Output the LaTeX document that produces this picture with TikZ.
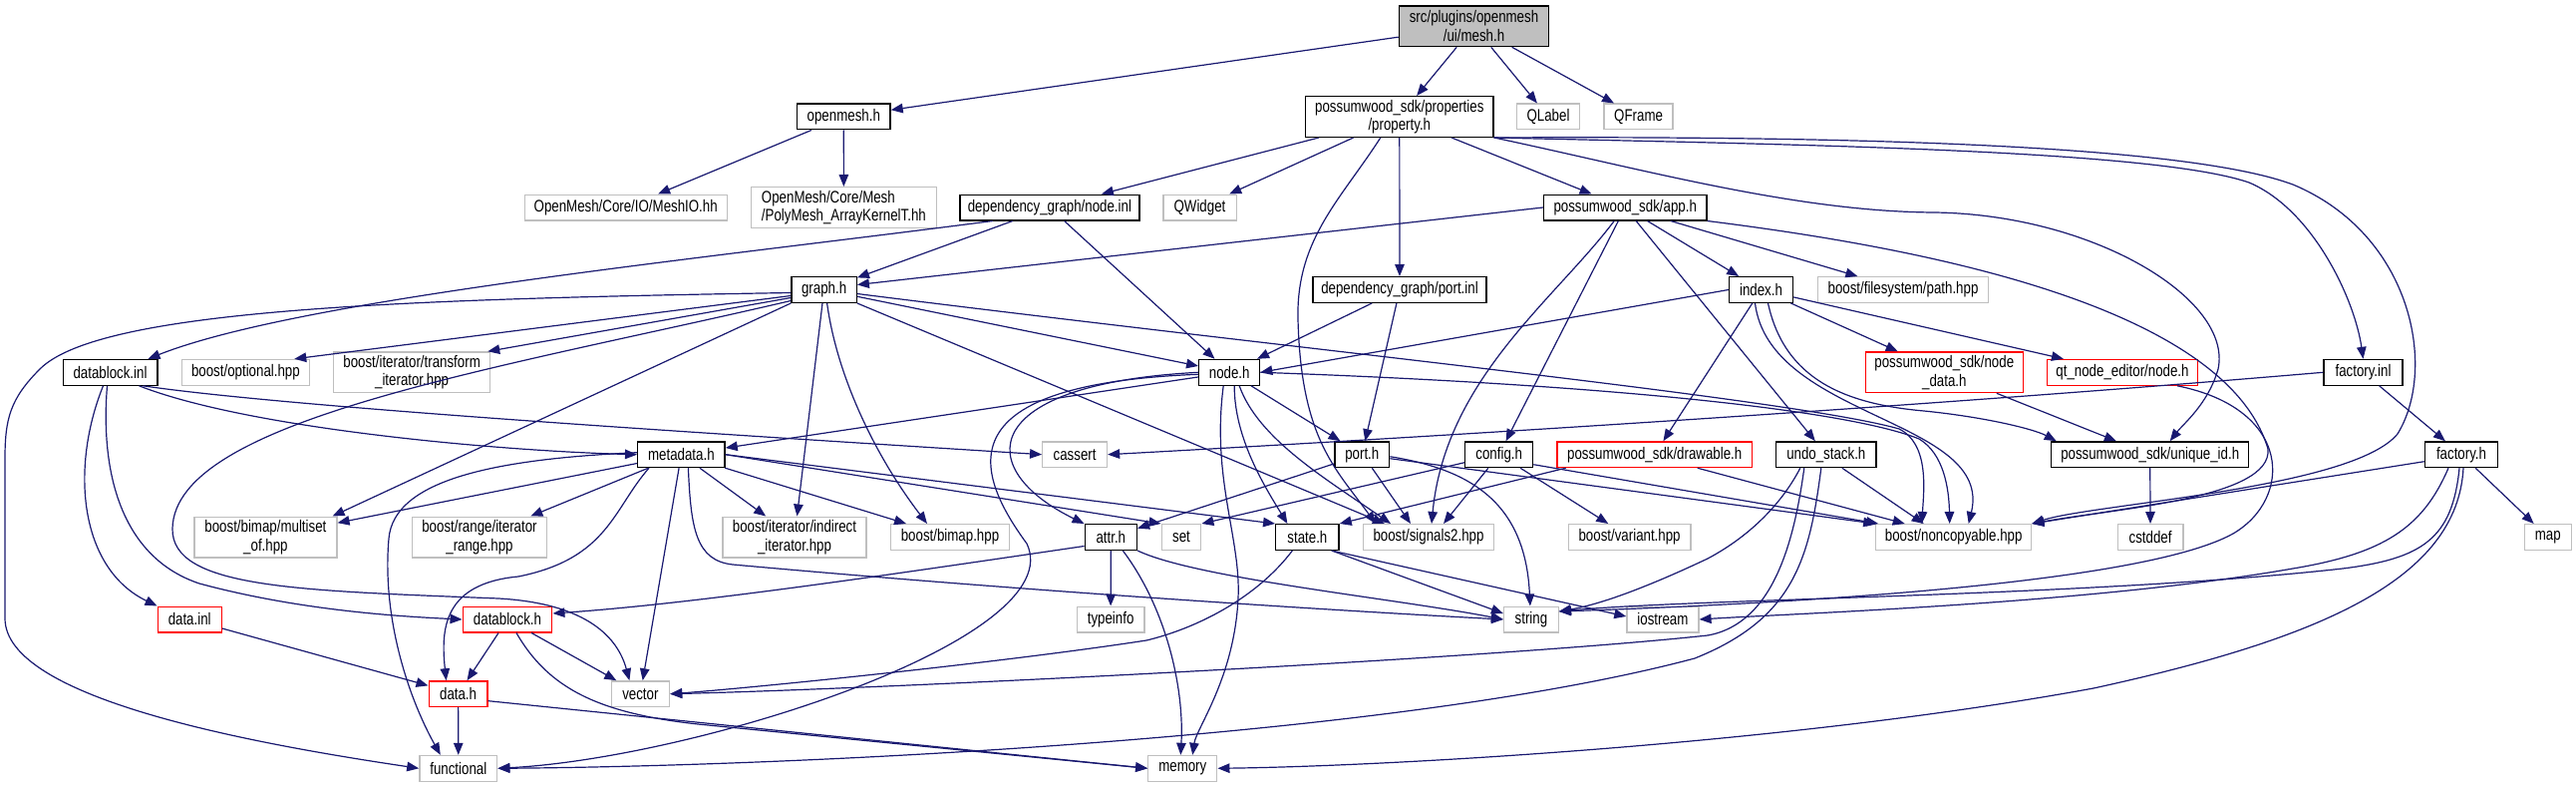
\documentclass[tikz,border=0pt]{standalone}
\usepackage{fontspec}
\setmainfont{Liberation Sans}[FakeStretch=0.794]
\usetikzlibrary{arrows.meta}
\definecolor{edgec}{HTML}{191970}
\definecolor{grayc}{HTML}{BFBFBF}
\def\rkA{26.3}\def\rkB{117}\def\rkC{208}\def\rkD{290.5}\def\rkE{373.3}
\def\rkF{455.7}\def\rkG{538.5}\def\rkH{621}\def\rkI{695.7}\def\rkJ{770.3}
\tikzset{
  nb/.style={rectangle, draw, fill=white, line width=1.3pt, inner xsep=1pt, inner ysep=0pt,
    minimum height=25.7pt, align=center, font=\fontsize{16.75pt}{18.6pt}\selectfont, text=black},
  doc/.style={nb, draw=black},
  ext/.style={nb, draw=grayc},
  trunc/.style={nb, draw=red},
  root/.style={nb, draw=black, fill=grayc},
  two/.style={minimum height=40.7pt},
  bw/.style={minimum width=#1pt},
  edg/.style={draw=edgec, line width=1.2pt, -{Triangle[length=12pt,width=9.5pt]}},
}
\begin{document}
\begin{tikzpicture}[x=1pt,y=-1pt]
\useasboundingbox (0,0) rectangle (2584,789);
\fill[white] (0,0) rectangle (2584,789);
% rank 0
\node[root,two,bw=150.3] (mesh) at (1478.5,\rkA) {src/plugins/openmesh\\/ui/mesh.h};
% rank 1
\node[doc,bw=93.5] (openmesh) at (846.3,\rkB) {openmesh.h};
\node[doc,two,bw=188.5] (property) at (1403.8,\rkB) {possumwood\_sdk/properties\\/property.h};
\node[ext,bw=62.7] (qlabel) at (1553,\rkB) {QLabel};
\node[ext,bw=69] (qframe) at (1643.6,\rkB) {QFrame};
% rank 2
\node[ext,bw=203] (meshio) at (627.7,\rkC) {OpenMesh/Core/IO/MeshIO.hh};
\node[ext,two,bw=185.6,align=left] (polymesh) at (846.4,\rkC) {OpenMesh/Core/Mesh\\/PolyMesh\_ArrayKernelT.hh};
\node[doc,bw=180] (nodeinl) at (1052.9,\rkC) {dependency\_graph/node.inl};
\node[ext,bw=73.3] (qwidget) at (1203.5,\rkC) {QWidget};
\node[doc,bw=163.3] (apph) at (1630.2,\rkC) {possumwood\_sdk/app.h};
% rank 3
\node[doc,bw=65.3] (graphh) at (826.6,\rkD) {graph.h};
\node[doc,bw=174] (portinl) at (1404,\rkD) {dependency\_graph/port.inl};
\node[doc,bw=64] (indexh) at (1766.5,\rkD) {index.h};
\node[ext,bw=171.4] (pathhpp) at (1909,\rkD) {boost/filesystem/path.hpp};
% rank 4
\node[doc,bw=94.7] (dbinl) at (110.5,\rkE) {datablock.inl};
\node[ext,bw=128.4] (optional) at (246.4,\rkE) {boost/optional.hpp};
\node[ext,two,bw=157] (transform) at (413.1,\rkE) {boost/iterator/transform\\\_iterator.hpp};
\node[doc,bw=61] (nodeh) at (1233.2,\rkE) {node.h};
\node[trunc,two,bw=158] (nodedata) at (1950.3,\rkE) {possumwood\_sdk/node\\\_data.h};
\node[trunc,bw=150.7] (qtnode) at (2129,\rkE) {qt\_node\_editor/node.h};
\node[doc,bw=79] (factoryinl) at (2370.5,\rkE) {factory.inl};
% rank 5
\node[doc,bw=87.4] (metadata) at (683.4,\rkF) {metadata.h};
\node[ext,bw=64.8] (cassert) at (1078.1,\rkF) {cassert};
\node[doc,bw=54.7] (porth) at (1366.3,\rkF) {port.h};
\node[doc,bw=67.8] (configh) at (1503.7,\rkF) {config.h};
\node[trunc,bw=195.3] (drawable) at (1659.7,\rkF) {possumwood\_sdk/drawable.h};
\node[doc,bw=100.2] (undo) at (1831.8,\rkF) {undo\_stack.h};
\node[doc,bw=197.8] (uniqueid) at (2156.7,\rkF) {possumwood\_sdk/unique\_id.h};
\node[doc,bw=73.2] (factoryh) at (2469,\rkF) {factory.h};
% rank 6
\node[ext,two,bw=143] (multiset) at (266.4,\rkG) {boost/bimap/multiset\\\_of.hpp};
\node[ext,two,bw=134.7] (range) at (481,\rkG) {boost/range/iterator\\\_range.hpp};
\node[ext,two,bw=144] (indirect) at (797,\rkG) {boost/iterator/indirect\\\_iterator.hpp};
\node[ext,bw=119] (bimap) at (953,\rkG) {boost/bimap.hpp};
\node[doc,bw=52.2] (attrh) at (1114.3,\rkG) {attr.h};
\node[ext,bw=39.6] (set) at (1185,\rkG) {set};
\node[doc,bw=63.4] (stateh) at (1311.4,\rkG) {state.h};
\node[ext,bw=131] (signals) at (1433,\rkG) {boost/signals2.hpp};
\node[ext,bw=122.5] (variant) at (1634.6,\rkG) {boost/variant.hpp};
\node[ext,bw=155.8] (noncopy) at (1959.7,\rkG) {boost/noncopyable.hpp};
\node[ext,bw=65.7] (cstddef) at (2157.1,\rkG) {cstddef};
\node[ext,bw=47.1] (map) at (2555.8,\rkG) {map};
% rank 7
\node[trunc,bw=64] (datainl) at (190.2,\rkH) {data.inl};
\node[trunc,bw=89.6] (datablockh) at (509,\rkH) {datablock.h};
\node[ext,bw=67.8] (typeinfo) at (1114.1,\rkH) {typeinfo};
\node[ext,bw=54.7] (string) at (1535.9,\rkH) {string};
\node[ext,bw=72] (iostream) at (1667.9,\rkH) {iostream};
% rank 8
\node[trunc,bw=58.9] (datah) at (459.6,\rkI) {data.h};
\node[ext,bw=58.4] (vector) at (642.4,\rkI) {vector};
% rank 9
\node[ext,bw=77.9] (functional) at (459.8,\rkJ) {functional};
\node[ext,bw=69] (memory) at (1186.3,\rkJ) {memory};

% ---- edges ----
\draw[edg] (mesh) -- (openmesh);
\draw[edg] (mesh) -- (property);
\draw[edg] (mesh) -- (qlabel);
\draw[edg] (mesh) -- (qframe);
\draw[edg] (openmesh) -- (meshio);
\draw[edg] (openmesh) -- (polymesh);
% property.h
\draw[edg] (property) -- (nodeinl);
\draw[edg] (property) -- (qwidget);
\draw[edg] (property) -- (portinl);
\draw[edg] (property) -- (apph);
\draw[edg] ([xshift=-19pt]property.south) .. controls (1345,200) and (1300,240) .. (1302,320) .. controls (1305,440) and (1340,470) .. ([xshift=-53pt]signals.north);
\draw[edg] (property.south east) .. controls (1800,145) and (2160,150) .. (2256,183) .. controls (2320,210) and (2362,300) .. (factoryinl.north);
\draw[edg] (property.south east) .. controls (1900,136) and (2200,148) .. (2300,185) .. controls (2420,235) and (2445,370) .. (2405,435) .. controls (2360,490) and (2100,505) .. (noncopy.north east);
\draw[edg] (property.south east) .. controls (1650,170) and (1800,212) .. (1940,213) .. controls (2100,215) and (2240,300) .. (2225,370) .. controls (2215,405) and (2190,425) .. ([xshift=20pt]uniqueid.north);
% node.inl
\draw[edg] ([xshift=-57pt]nodeinl.south) .. controls (700,260) and (300,300) .. ([xshift=-10pt]dbinl.north east);
\draw[edg] (nodeinl) -- (graphh);
\draw[edg] (nodeinl) -- (nodeh);
% app.h
\draw[edg] (apph.west) -- ([yshift=5pt]graphh.east);
\draw[edg] ([xshift=-11pt]apph.south) .. controls (1560,300) and (1450,380) .. ([xshift=3pt]signals.north);
\draw[edg] (apph) -- (configh);
\draw[edg] (apph) -- (undo);
\draw[edg] (apph) -- (indexh);
\draw[edg] (apph) -- (pathhpp);
\draw[edg] (apph.south east) .. controls (1900,245) and (2230,300) .. (2275,450) .. controls (2280,500) and (2120,510) .. (noncopy.north east);
% graph.h
\draw[edg] ([yshift=-3pt]graphh.west) .. controls (400,300) and (100,310) .. (40,370) .. controls (10,400) and (5,420) .. (5,460) -- (5,620) .. controls (5,700) and (250,745) .. (functional.west);
\draw[edg] ([yshift=-6pt]graphh.west) -- ([xshift=-16pt]optional.north east);
\draw[edg] ([yshift=-8pt]graphh.west) -- ([xshift=-3pt]transform.north east);
\draw[edg] ([yshift=-11pt]graphh.west) .. controls (500,370) and (175,420) .. (173,530) .. controls (172,590) and (300,592) .. (500,600) .. controls (590,605) and (620,640) .. ([xshift=-11pt]vector.north);
\draw[edg] (graphh.south west) -- ([xshift=-5pt]multiset.north east);
\draw[edg] (graphh) -- (indirect);
\draw[edg] ([xshift=3pt]graphh.south) .. controls (840,380) and (880,460) .. ([xshift=-23pt]bimap.north);
\draw[edg] (graphh) -- (nodeh);
\draw[edg] (graphh.south east) -- ([xshift=-44pt]signals.north);
\draw[edg] ([yshift=-4pt]graphh.east) .. controls (1300,350) and (1800,400) .. (1905,430) .. controls (1935,445) and (1930,490) .. ([xshift=-32pt]noncopy.north);
% node.h
\draw[edg] (nodeh) -- (metadata);
\draw[edg] (nodeh.west) .. controls (980,385) and (975,470) .. (attrh.north west);
\draw[edg] ([xshift=5pt]nodeh.south) .. controls (1238,440) and (1270,490) .. ([xshift=-20pt]stateh.north);
\draw[edg] (nodeh) -- (porth);
\draw[edg] ([xshift=10pt]nodeh.south) .. controls (1262,440) and (1330,480) .. ([xshift=-38pt]signals.north);
\draw[edg] ([xshift=-6pt]nodeh.south) .. controls (1215,480) and (1245,540) .. (1242,600) .. controls (1238,680) and (1200,730) .. ([xshift=10pt]memory.north);
\draw[edg] ([yshift=-2pt]nodeh.west) .. controls (950,385) and (975,470) .. (1030,545) .. controls (1075,640) and (700,760) .. (functional.east);
\draw[edg] (nodeh.east) .. controls (1600,385) and (1850,410) .. (1925,440) .. controls (1950,455) and (1955,490) .. ([xshift=-4pt]noncopy.north);
% port.inl
\draw[edg] (portinl) -- (nodeh);
\draw[edg] (portinl) -- (porth);
% index.h
\draw[edg] (indexh.west) -- (nodeh.east);
\draw[edg] (indexh) -- (drawable);
\draw[edg] (indexh) -- (nodedata);
\draw[edg] (indexh) -- (qtnode);
\draw[edg] ([xshift=-6pt]indexh.south) .. controls (1775,420) and (2000,420) .. ([xshift=15pt]noncopy.north);
\draw[edg] ([xshift=7pt]indexh.south) .. controls (1790,380) and (1850,405) .. (1930,412) .. controls (1990,418) and (2040,430) .. ([xshift=-94pt]uniqueid.north);
% node_data, qt node, factory.inl, unique_id
\draw[edg] (nodedata) -- (uniqueid);
\draw[edg] ([xshift=-21pt]qtnode.south east) .. controls (2300,410) and (2300,500) .. (2240,535) .. controls (2150,585) and (1800,605) .. ([yshift=8pt]string.east);
\draw[edg] (factoryinl.west) .. controls (1900,410) and (1400,440) .. (cassert.east);
\draw[edg] (factoryinl) -- (factoryh);
\draw[edg] (uniqueid) -- (cstddef);
% factory.h
\draw[edg] ([yshift=-7pt]factoryh.west) -- (noncopy.north east);
\draw[edg] (factoryh) -- (map);
\draw[edg] ([xshift=-13pt]factoryh.south) .. controls (2430,530) and (2390,555) .. (2300,570) .. controls (2100,605) and (1800,615) .. (iostream.east);
\draw[edg] ([xshift=-2pt]factoryh.south) .. controls (2460,540) and (2430,560) .. (2350,570) .. controls (2100,598) and (1700,600) .. ([yshift=8pt]string.east);
\draw[edg] ([xshift=2pt]factoryh.south) .. controls (2465,580) and (2330,640) .. (2100,690) .. controls (1800,745) and (1400,768) .. (memory.east);
% port.h
\draw[edg] (porth) -- (attrh);
\draw[edg] ([xshift=10pt]porth.south) -- ([xshift=-18pt]signals.north);
\draw[edg] ([yshift=-2pt]porth.east) .. controls (1470,470) and (1530,500) .. ([xshift=-1pt]string.north);
\draw[edg] ([yshift=-4pt]porth.east) -- (noncopy.north west);
% config.h
\draw[edg] ([yshift=-8pt]configh.west) -- (set.north east);
\draw[edg] (configh) -- ([xshift=15pt]signals.north);
\draw[edg] (configh) -- (variant);
\draw[edg] ([yshift=-10pt]configh.east) -- ([xshift=3pt]noncopy.north west);
% drawable
\draw[edg] ([xshift=-89pt]drawable.south) -- (stateh.north east);
\draw[edg] ([xshift=43pt]drawable.south) -- ([xshift=-49pt]noncopy.north);
% undo
\draw[edg] ([xshift=16pt]undo.south) -- ([xshift=-30pt]noncopy.north);
\draw[edg] ([xshift=-26pt]undo.south) .. controls (1790,500) and (1760,535) .. (1713,560) .. controls (1660,585) and (1610,605) .. ([yshift=8pt]string.east);
\draw[edg] ([xshift=-22pt]undo.south) .. controls (1800,540) and (1780,625) .. (1713,637) .. controls (1500,660) and (900,690) .. (vector.east);
\draw[edg] ([xshift=-5pt]undo.south) .. controls (1815,560) and (1800,620) .. (1700,660) .. controls (1400,740) and (800,768) .. (functional.east);
% metadata
\draw[edg] (metadata) -- (multiset);
\draw[edg] ([yshift=2pt]metadata.west) .. controls (500,460) and (395,480) .. (390,540) .. controls (383,620) and (410,700) .. ([xshift=-18pt]functional.north);
\draw[edg] ([xshift=12pt]metadata.south west) .. controls (615,510) and (610,560) .. (520,578) .. controls (445,585) and (442,630) .. ([xshift=-12pt]datah.north);
\draw[edg] (metadata) -- (range);
\draw[edg] (metadata) -- (vector);
\draw[edg] (metadata) -- (indirect);
\draw[edg] (metadata) -- (bimap);
\draw[edg] (metadata.east) -- (set.north west);
\draw[edg] (metadata.east) -- (stateh.north west);
\draw[edg] ([xshift=7pt]metadata.south) .. controls (693,530) and (698,562) .. (735,566) .. controls (1000,590) and (1300,610) .. (string.west);
% datablock.inl
\draw[edg] ([xshift=-7pt]dbinl.south) .. controls (70,470) and (80,570) .. (datainl.north west);
\draw[edg] ([xshift=-3pt]dbinl.south) .. controls (100,480) and (125,560) .. (200,585) .. controls (300,612) and (400,618) .. (datablockh.west);
\draw[edg] ([xshift=29pt]dbinl.south) .. controls (250,430) and (500,452) .. (metadata.west);
\draw[edg] ([xshift=33pt]dbinl.south) .. controls (300,410) and (800,440) .. (cassert.west);
% data
\draw[edg] (datainl) -- (datah);
\draw[edg] (datablockh) -- (datah);
\draw[edg] (datablockh) -- (vector);
\draw[edg] ([xshift=9pt]datablockh.south) .. controls (550,690) and (600,715) .. (700,726) -- (memory.west);
\draw[edg] (datah) -- (functional);
\draw[edg] ([yshift=-7pt]datah.east) -- (memory.west);
% attr.h
\draw[edg] ([yshift=-9pt]attrh.west) .. controls (900,575) and (700,605) .. ([yshift=6pt]datablockh.east);
\draw[edg] (attrh) -- (typeinfo);
\draw[edg] ([xshift=12pt]attrh.south) .. controls (1170,610) and (1188,690) .. ([xshift=-2pt]memory.north);
\draw[edg] (attrh.south east) .. controls (1200,580) and (1400,600) .. (string.west);
% state.h
\draw[edg] ([xshift=-15pt]stateh.south) .. controls (1260,600) and (1200,630) .. (1150,642) .. controls (1000,665) and (750,690) .. (vector.east);
\draw[edg] ([xshift=-8pt]stateh.south east) -- ([yshift=6pt]string.west);
\draw[edg] ([xshift=-8pt]stateh.south east) -- ([yshift=3pt]iostream.west);
\end{tikzpicture}
\end{document}
